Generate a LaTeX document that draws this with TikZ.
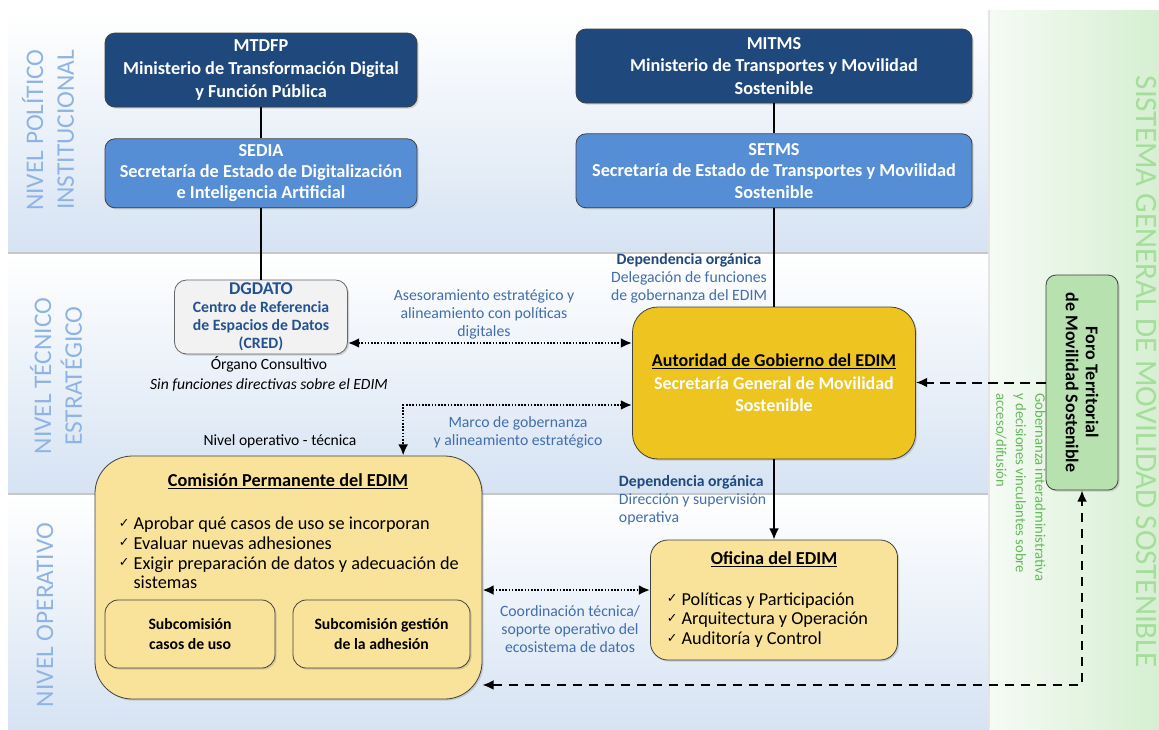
\documentclass[tikz,border=0pt]{standalone}
\usepackage{fontspec}
\setmainfont{Carlito}
\newfontfamily\symfont{DejaVu Sans}
\usetikzlibrary{positioning, arrows.meta, shadows}
\definecolor{darkbox}{RGB}{31,73,125}
\definecolor{midbox}{RGB}{85,142,213}
\definecolor{bandblue}{RGB}{214,227,243}
\definecolor{bandtext}{RGB}{142,180,227}
\definecolor{labelblue}{RGB}{66,110,172}
\definecolor{depblue}{RGB}{31,73,125}
\definecolor{dgblue}{RGB}{36,82,145}
\definecolor{gold}{RGB}{238,196,32}
\definecolor{lightgold}{RGB}{249,227,155}
\definecolor{forogreen}{RGB}{183,225,175}
\definecolor{greentext}{RGB}{100,185,90}
\definecolor{greentitle}{RGB}{165,222,155}
\definecolor{greenbg}{RGB}{214,239,210}
\newcommand\fs[2]{\fontsize{#1}{#2}\selectfont}
\newcommand\chk{\raisebox{0.3ex}{\symfont\fontsize{9.5}{9.5}\selectfont ✓}\hspace{3pt}}
\tikzstyle{sombra} = [drop shadow={shadow xshift=1.2pt, shadow yshift=-1.2pt, opacity=0.3}]
\tikzstyle{minis} = [rectangle, rounded corners=7.5pt, draw=black!75, line width=0.6pt, fill=darkbox, text=white, font=\bfseries\fs{13.7}{16.9}, inner sep=0pt, minimum width=234pt, minimum height=55.5pt, sombra]
\tikzstyle{secre} = [minis, fill=midbox, minimum height=51.75pt, font=\bfseries\fs{13.7}{15.6}]
\tikzstyle{consul} = [minis, fill=black!5, draw=black!60, text=dgblue, font=\bfseries\fs{11.8}{13.5}, rounded corners=9pt, minimum width=129.75pt]
\tikzstyle{autor} = [minis, fill=gold, text=black, rounded corners=19pt, minimum width=212.25pt, minimum height=114pt, font=\bfseries\fs{13.5}{16.9}]
\tikzstyle{comi} = [minis, fill=lightgold, rounded corners=28pt, minimum width=290.25pt, minimum height=182.25pt]
\tikzstyle{ofi} = [minis, fill=lightgold, rounded corners=13pt, minimum width=185.25pt, minimum height=90pt]
\tikzstyle{subcom} = [minis, fill=lightgold, text=black, rounded corners=10pt, minimum width=127.5pt, minimum height=51pt, font=\bfseries\fs{11.8}{14.3}]
\tikzstyle{forobox} = [minis, fill=forogreen, text=black, rotate=-90, minimum width=161.25pt, minimum height=54pt, font=\bfseries\fs{13.5}{15}]
\tikzstyle{titulo} = [font=\bfseries\fs{13.7}{15}]
\tikzstyle{lista} = [font=\fs{13.7}{14.8}, align=left, anchor=west]
\tikzstyle{etiq} = [font=\fs{11.8}{13.5}, text=labelblue]
\tikzstyle{nivel} = [rotate=90, text=bandtext, font=\fs{19}{23}]
\tikzstyle{linea} = [line width=1.5pt]
\tikzstyle{flecha} = [line width=1.5pt, -{Latex[length=8.5pt,width=7.5pt]}]
\tikzstyle{punteada} = [line width=1.9pt, dash pattern=on 1.2pt off 1.2pt, {Latex[length=8.5pt,width=7.5pt]}-{Latex[length=8.5pt,width=7.5pt]}]
\tikzstyle{discont} = [line width=1.5pt, dash pattern=on 7pt off 5pt, -{Latex[length=8.5pt,width=7.5pt]}]

\begin{document}
\begin{tikzpicture}[x=0.75pt, y=0.75pt, thick, align=center]
  \useasboundingbox (0,0) rectangle (1159,-729);

  % bandas de nivel
  \foreach \ya/\yb in {12/252, 254/493, 494/729}{
    \shade[top color=white, bottom color=bandblue] (8,-\ya) rectangle (989,-\yb);
  }
  \draw[black!22, line width=1.5pt] (8,-253) -- (989,-253);
  \draw[black!22, line width=1.5pt] (8,-493.5) -- (989,-493.5);
  \shade[left color=greenbg!25, right color=greenbg] (989,-10) rectangle (1159,-729);
  \draw[black!10, line width=1pt] (989,-10) -- (989,-729);

  \node (nivpol) [nivel] at (48,-130) {NIVEL POLÍTICO\\INSTITUCIONAL};
  \node (nivtec) [nivel] at (56,-376) {NIVEL TÉCNICO\\ESTRATÉGICO};
  \node (nivope) [nivel] at (45,-615) {NIVEL OPERATIVO};
  \node (sistema) [rotate=-90, text=greentitle, font=\fs{23.3}{26}] at (1146,-372) {SISTEMA GENERAL DE MOVILIDAD SOSTENIBLE};

  % nivel politico
  \node (mtdfp) [minis] at (261,-70) {MTDFP\\Ministerio de Transformación Digital\\y Función Pública};
  \node (sedia) [secre, below=23.25pt of mtdfp] {SEDIA\\Secretaría de Estado de Digitalización\\e Inteligencia Artificial}
  edge[linea] (mtdfp);

  \node (mitms) [minis, minimum width=297pt] at (774,-66) {MITMS\\Ministerio de Transportes y Movilidad\\Sostenible};
  \node (setms) [secre, minimum width=297pt, minimum height=55.5pt, font=\bfseries\fs{13.7}{16.2}, below=22.5pt of mitms] {SETMS\\Secretaría de Estado de Transportes y Movilidad\\Sostenible}
  edge[linea] (mitms);

  % nivel tecnico
  \node (dgdato) [consul] at (261,-317) {{\fs{13.5}{14}DGDATO}\\Centro de Referencia\\de Espacios de Datos\\(CRED)}
  edge[linea] (sedia);
  \node (organo) [font=\fs{11.7}{14.8}] at (269,-374) {Órgano Consultivo\\\textit{Sin funciones directivas sobre el EDIM}};

  \node (autoridad) [autor] at (774,-383) {\underline{Autoridad de Gobierno del EDIM}\\\textcolor{white}{Secretaría General de Movilidad}\\\textcolor{white}{Sostenible}}
  edge[linea] (setms);
  \node (depuno) [etiq] at (689,-278) {\textcolor{depblue}{\textbf{Dependencia orgánica}}\\Delegación de funciones\\de gobernanza del EDIM};

  \node (ases) [etiq] at (484,-314) {Asesoramiento estratégico y\\alineamiento con políticas\\digitales};
  \node (marco) [etiq] at (518,-432) {Marco de gobernanza\\y alineamiento estratégico};
  \node (nivtecnica) [font=\fs{11.7}{13}] at (280,-441) {Nivel operativo - técnica};

  \node (foro) [forobox] at (1082,-382.5) {Foro Territorial\\de Movilidad Sostenible};
  \node (gobtxt) [rotate=-90, anchor=north west, align=left, inner sep=0pt, text=greentext, font=\fs{11}{14.6}] at (1046,-393) {Gobernanza interadministrativa\\y decisiones vinculantes sobre\\acceso/difusión};

  % nivel operativo
  \node (comision) [comi] at (288.5,-577.5) {};
  \node (comtit) [titulo] at (288,-481) {\underline{Comisión Permanente del EDIM}};
  \node (comlist) [lista] at (114,-553) {\chk Aprobar qué casos de uso se incorporan\\\chk Evaluar nuevas adhesiones\\\chk Exigir preparación de datos y adecuación de\\\hphantom{\chk}sistemas};
  \node (subcasos) [subcom] at (190,-634) {Subcomisión\\casos de uso};
  \node (subadh) [subcom, minimum width=132.75pt] at (381.5,-634) {Subcomisión gestión\\de la adhesión};

  \node (oficina) [ofi] at (774,-600) {};
  \node (ofitit) [titulo] at (774,-559) {\underline{Oficina del EDIM}};
  \node (ofilist) [lista] at (662,-620) {\chk Políticas y Participación\\\chk Arquitectura y Operación\\\chk Auditoría y Control};
  \node (depdos) [etiq, align=left, anchor=west] at (614,-500) {\textcolor{depblue}{\textbf{Dependencia orgánica}}\\Dirección y supervisión\\operativa};
  \node (coord) [etiq] at (570,-629) {Coordinación técnica/\\soporte operativo del\\ecosistema de datos};

  % conectores
  \draw [flecha] (autoridad) -- (oficina);

  \coordinate (asesp) at ([yshift=-19.5pt]dgdato.east);
  \draw [punteada] (asesp) -- (asesp -| autoridad.west);
  \coordinate (marcop) at ([yshift=-16.5pt]autoridad.west);
  \coordinate (marcoq) at ([xshift=86pt]comision.north);
  \draw [punteada] (marcop) -| (marcoq);
  \coordinate (coordp) at ([yshift=-9.4pt]comision.east);
  \draw [punteada] (coordp) -- (coordp -| oficina.west);

  \draw [discont] (foro.south) -- (foro.south -| autoridad.east);
  \coordinate (forop) at ([yshift=-80.6pt]comision.east);
  \draw [discont, {Latex[length=8.5pt,width=7.5pt]}-{Latex[length=8.5pt,width=7.5pt]}] (forop) -| (foro.east);

\end{tikzpicture}
\end{document}
